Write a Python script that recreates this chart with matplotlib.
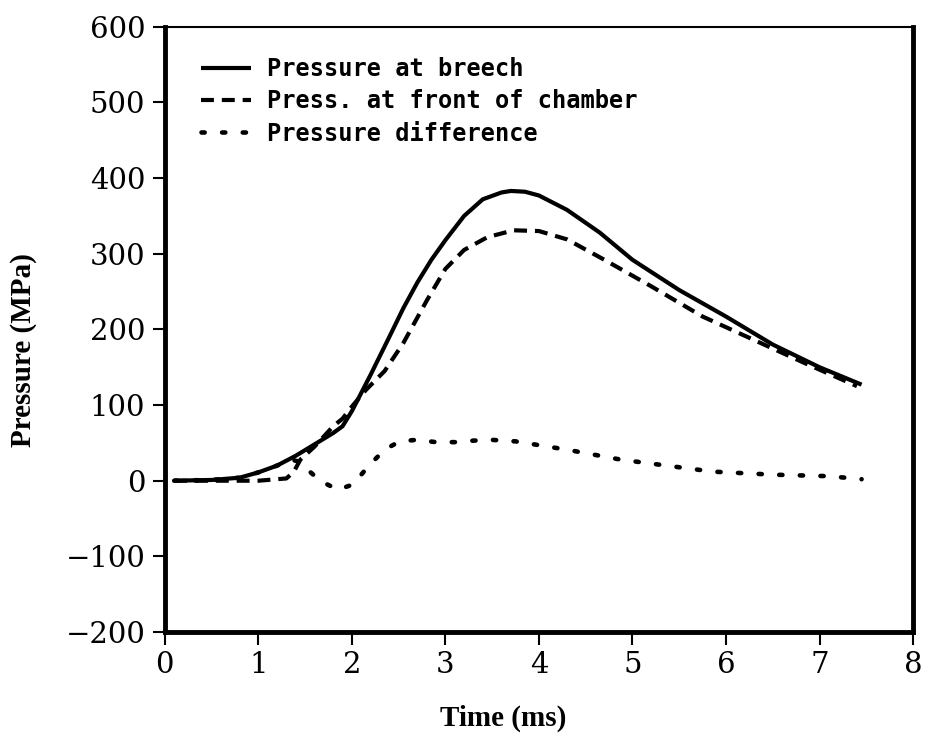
import matplotlib
matplotlib.use("Agg")
import matplotlib.pyplot as plt

# ------ DATOS ------

t_breech = [0.1, 0.5, 0.8, 1.0, 1.2, 1.4, 1.6, 1.8, 1.9, 2.0, 2.2, 2.4, 2.55,
            2.7, 2.85, 3.0, 3.2, 3.4, 3.6, 3.7, 3.85, 4.0, 4.3, 4.65, 5.0,
            5.5, 6.0, 6.5, 7.0, 7.45]
p_breech = [0, 1, 4, 11, 20, 33, 48, 63, 72, 92, 140, 190, 228,
            262, 292, 318, 350, 372, 381, 383, 382, 377, 358, 328, 292,
            252, 217, 180, 150, 127]

t_front = [0.1, 0.7, 1.0, 1.3, 1.38, 1.45, 1.6, 1.8, 1.9, 2.0, 2.15, 2.35,
           2.55, 2.8, 3.0, 3.2, 3.45, 3.73, 4.0, 4.3, 4.7, 5.2, 5.75, 6.3,
           6.85, 7.4]
p_front = [0, 0, 0, 3, 12, 28, 45, 72, 82, 98, 120, 145,
           182, 238, 280, 305, 322, 331, 330, 319, 292, 257, 217, 186,
           155, 125]

t_diff = [0.1, 0.5, 0.8, 1.0, 1.2, 1.35, 1.44, 1.55, 1.66, 1.85, 2.01, 2.19,
          2.35, 2.51, 2.69, 2.9, 3.1, 3.3, 3.5, 3.75, 3.95, 4.3, 4.87, 5.3,
          5.86, 6.5, 7.1, 7.45]
p_diff = [0, 1, 4, 11, 20, 28, 25, 12, 0, -12, -5, 21,
          41, 52, 54, 51, 51, 53, 54, 52, 48, 41, 28, 21,
          12, 8, 6, 2]

labels = ["Pressure at breech", "Press. at front of chamber",
          "Pressure difference"]
x_ticks = list(range(0, 9))
y_ticks = list(range(-200, 601, 100))

# ------ FIGURA ------

fig = plt.figure(figsize=(9.26, 7.44), dpi=100)
ax = fig.add_axes([0.178, 0.1505, 0.808, 0.8135])

ax.plot(t_breech, p_breech, color="black", lw=3, solid_capstyle="butt",
        solid_joinstyle="round", label=labels[0])
ax.plot(t_front, p_front, color="black", lw=3, linestyle=(0, (3.1, 1.9)),
        label=labels[1])
ax.plot(t_diff, p_diff, color="black", lw=3.3, linestyle=(0, (0.7, 3.8)),
        dash_capstyle="round", label=labels[2])

ax.set_xlim(0, 8)
ax.set_ylim(-200, 600)
ax.set_xticks(x_ticks)
ax.set_yticks(y_ticks)

for side in ["left", "bottom", "right"]:
    ax.spines[side].set_linewidth(3.5)
ax.spines["top"].set_linewidth(1.5)

ax.tick_params(direction="out", length=9, width=1.5, top=False, right=False,
               labelsize=21, pad=5)
for lab in ax.get_xticklabels() + ax.get_yticklabels():
    lab.set_family("DejaVu Serif")

ax.set_xlabel("Time (ms)", family="Liberation Serif", weight="bold",
              fontsize=21)
ax.xaxis.set_label_coords(0.452, -0.12)
ax.xaxis.label.set_va("top")
ax.set_ylabel("Pressure (MPa)", family="Liberation Serif", weight="bold",
              fontsize=21)
ax.yaxis.set_label_coords(-0.171, 0.466)

leg = ax.legend(loc="upper left", bbox_to_anchor=(0.02, 0.985),
                frameon=False, handlelength=2.1, handletextpad=0.7,
                labelspacing=0.35,
                prop={"family": "DejaVu Sans Mono", "weight": "bold",
                      "size": 17})

fig.savefig("out.png", dpi=100)
